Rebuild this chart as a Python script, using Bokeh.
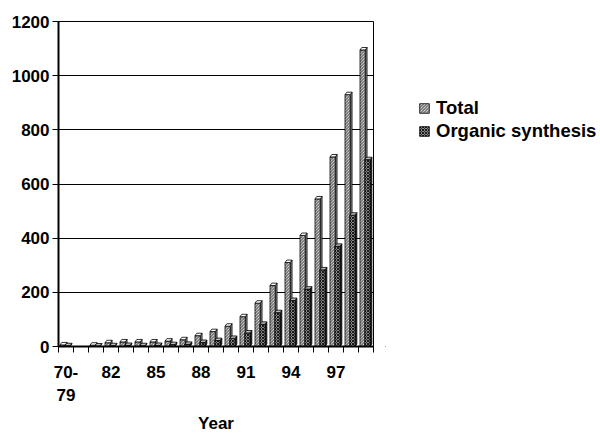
from bokeh.plotting import figure
from bokeh.models import FixedTicker, Legend, LegendItem, Range1d, ColumnDataSource
from bokeh.layouts import row
from bokeh.embed import file_html
from bokeh.resources import INLINE

# ---- data ----
years = ["70-79", "80", "81", "82", "83", "84", "85", "86", "87", "88", "89",
         "90", "91", "92", "93", "94", "95", "96", "97", "98", "99"]
total = [6, 0, 5, 14, 17, 17, 17, 20, 25, 40, 55, 75, 110, 160, 225, 310, 410, 545, 700, 930, 1095]
organic = [3, 0, 2, 3, 4, 3, 4, 7, 8, 15, 22, 30, 50, 82, 125, 170, 212, 283, 370, 485, 690]
shown_labels = ["70-\n79", "82", "85", "88", "91", "94", "97"]
y_ticks = [0, 200, 400, 600, 800, 1000, 1200]
series_names = ["Total", "Organic synthesis"]

FONT = "Liberation Sans"
n = len(years)

TOTAL_STYLE = dict(fill_color="white", line_color="black", line_width=0.8,
                   hatch_pattern="left_diagonal_line", hatch_color="#555555",
                   hatch_scale=3, hatch_weight=1)
ORG_STYLE = dict(fill_color="#8a8a8a", line_color="black", line_width=0.8,
                 hatch_pattern="diagonal_cross", hatch_color="#1a1a1a",
                 hatch_scale=3, hatch_weight=1)

p = figure(width=385, height=436, output_backend="svg", toolbar_location=None,
           x_range=Range1d(0, n), y_range=Range1d(0, 1200),
           min_border_left=58, min_border_right=12, min_border_top=21, min_border_bottom=87)
p.background_fill_color = "white"
p.border_fill_color = "white"
p.outline_line_color = "black"
p.outline_line_width = 1

# bar geometry (in category units)
tot_x0, tot_x1 = 0.10, 0.45
org_x0, org_x1 = 0.42, 0.77
depth, rise = 0.12, 9


def bar_faces(off0, off1, vals):
    idx = [i for i, v in enumerate(vals) if v > 0]
    x0 = [i + off0 for i in idx]
    x1 = [i + off1 for i in idx]
    v = [vals[i] for i in idx]
    side = dict(xs=[[b, b + depth, b + depth, b] for b in x1],
                ys=[[0, rise, h + rise, h] for h in v])
    top = dict(xs=[[a, a + depth, b + depth, b] for a, b in zip(x0, x1)],
               ys=[[h, h + rise, h + rise, h] for h in v])
    front = ColumnDataSource(dict(x=[(a + b) / 2 for a, b in zip(x0, x1)], top=v))
    return side, top, front


sides_t, tops_t, front_t = bar_faces(tot_x0, tot_x1, total)
sides_o, tops_o, front_o = bar_faces(org_x0, org_x1, organic)

w = tot_x1 - tot_x0
# Total
p.patches(sides_t["xs"], sides_t["ys"], fill_color="#888888", line_color="black", line_width=0.8)
p.vbar(x="x", top="top", width=w, bottom=0, source=front_t, **TOTAL_STYLE)
p.patches(tops_t["xs"], tops_t["ys"], fill_color="white", line_color="black", line_width=0.8)
# Organic synthesis
p.patches(sides_o["xs"], sides_o["ys"], fill_color="#222222", line_color="black", line_width=0.8)
p.vbar(x="x", top="top", width=w, bottom=0, source=front_o, **ORG_STYLE)
p.patches(tops_o["xs"], tops_o["ys"], fill_color="#bbbbbb", line_color="black", line_width=0.8)

# ---- axes ----
label_pos = [i + 0.5 for i in range(0, n, 3)]
xa = p.xaxis[0]
xa.ticker = FixedTicker(ticks=label_pos, minor_ticks=list(range(n + 1)))
xa.major_label_overrides = {pos: lab for pos, lab in zip(label_pos, shown_labels)}
xa.major_tick_out = 0
xa.major_tick_in = 0
xa.minor_tick_out = 6
xa.minor_tick_in = 0
xa.minor_tick_line_color = "black"
xa.minor_tick_line_width = 1
xa.axis_line_color = "black"
xa.axis_line_width = 2
xa.major_label_text_font = FONT
xa.major_label_text_font_style = "bold"
xa.major_label_text_font_size = "17px"
xa.major_label_text_color = "black"
xa.major_label_standoff = 10
xa.major_label_text_line_height = 1.25
xa.axis_label = "Year"
xa.axis_label_text_font = FONT
xa.axis_label_text_font_style = "bold"
xa.axis_label_text_font_size = "17px"
xa.axis_label_text_color = "black"
xa.axis_label_standoff = 6

ya = p.yaxis[0]
ya.ticker = FixedTicker(ticks=y_ticks)
ya.major_tick_out = 6
ya.major_tick_in = 0
ya.minor_tick_out = 0
ya.minor_tick_in = 0
ya.major_tick_line_color = "black"
ya.axis_line_color = "black"
ya.axis_line_width = 2
ya.major_label_text_font = FONT
ya.major_label_text_font_style = "bold"
ya.major_label_text_font_size = "17px"
ya.major_label_text_color = "black"
ya.major_label_standoff = 3

p.xgrid.grid_line_color = None
p.ygrid.ticker = FixedTicker(ticks=y_ticks)
p.ygrid.grid_line_color = "black"
p.ygrid.grid_line_width = 1

# ---- legend panel (separate figure to the right) ----
pl = figure(width=215, height=436, output_backend="svg", toolbar_location=None,
            x_range=Range1d(0, 1), y_range=Range1d(0, 1),
            min_border=0, outline_line_color=None)
pl.axis.visible = False
pl.grid.visible = False
# one off-screen sample per series so the legend swatches have styles to draw
lr_t = pl.vbar(x="x", top="top", width=0.1, bottom=0,
               source=ColumnDataSource(dict(x=[-5], top=[-5])), **TOTAL_STYLE)
lr_o = pl.vbar(x="x", top="top", width=0.1, bottom=0,
               source=ColumnDataSource(dict(x=[-5], top=[-5])), **ORG_STYLE)
legend = Legend(items=[LegendItem(label=series_names[0], renderers=[lr_t], index=0),
                       LegendItem(label=series_names[1], renderers=[lr_o], index=0)],
                location=(33, 204), padding=0, margin=0, spacing=1,
                glyph_width=12, glyph_height=12, label_height=20, label_standoff=6,
                label_text_font=FONT, label_text_font_style="bold",
                label_text_font_size="18.5px", label_text_color="black",
                border_line_color=None, background_fill_alpha=0)
pl.add_layout(legend)

layout = row(p, pl)
open("out.html", "w").write(file_html(layout, INLINE))
